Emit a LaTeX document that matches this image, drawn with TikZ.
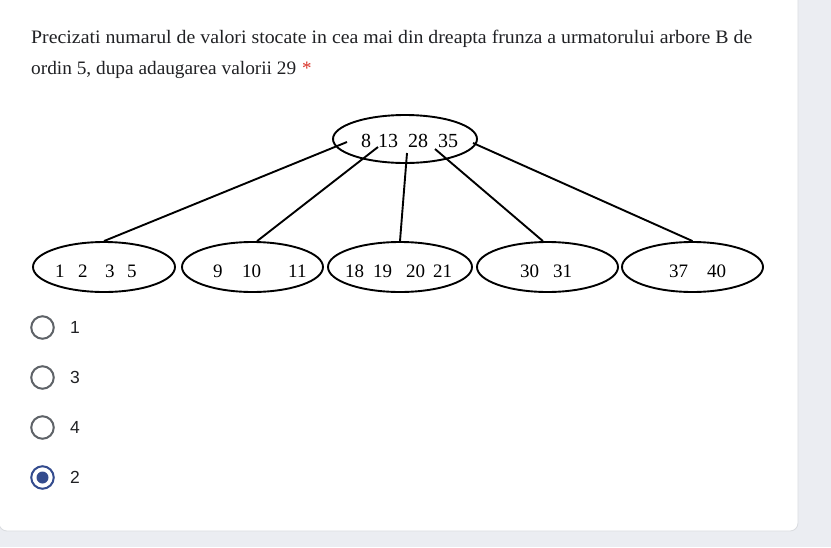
\documentclass[tikz,border=0pt]{standalone}
\usepackage{fontspec}
\usepackage{graphicx}
\setmainfont{Liberation Serif}
\newfontfamily\uisans{Liberation Sans}
\usetikzlibrary{shapes.geometric}
\definecolor{pagebg}{HTML}{EBEDF2}
\definecolor{cardline}{HTML}{DADCE0}
\definecolor{qtext}{HTML}{202124}
\definecolor{reqred}{HTML}{D93025}
\definecolor{radiogray}{HTML}{5F6368}
\definecolor{radioblue}{HTML}{344C8E}
\begin{document}
\begin{tikzpicture}[x=1pt,y=-1pt,
  bnode/.style={draw=black, line width=1.9pt, ellipse, inner sep=0pt},
  edge/.style={draw=black, line width=1.9pt},
  keys/.style={anchor=base west, inner sep=0pt, font=\fontsize{19}{21}\selectfont},
  rootkeys/.style={anchor=base west, inner sep=0pt, font=\fontsize{20}{22}\selectfont},
  qline/.style={anchor=base west, inner sep=0pt, text=qtext, font=\fontsize{19}{21}\selectfont},
  radio/.style={circle, draw=radiogray, line width=2pt, minimum size=22.5pt, inner sep=0pt},
  radiosel/.style={radio, draw=radioblue},
  radiodot/.style={circle, fill=radioblue, minimum size=12pt, inner sep=0pt},
  optlabel/.style={anchor=base west, inner sep=0pt, text=qtext, font=\uisans\fontsize{17.5}{20}\selectfont}]
\fill[pagebg] (0,0) rectangle (831,547);
\useasboundingbox (0,0) rectangle (831,547);
\draw[cardline, fill=white, line width=0.8pt, rounded corners=8pt] (-1,-12) rectangle (798,531);

% question
\node[qline] (q1) at (31,43) {\resizebox{721pt}{\height}{Precizati numarul de valori stocate in cea mai din dreapta frunza a urmatorului arbore B de}};
\node[qline] (q2) at (31,74) {\resizebox{265pt}{\height}{ordin 5, dupa adaugarea valorii 29}};
\node[qline, text=reqred] (req) at (302,74) {*};

% tree
\node[bnode, minimum width=144pt, minimum height=48pt] (root) at (405,139) {};
\node[bnode, minimum width=142pt, minimum height=50pt] (l1) at (104,267) {};
\node[bnode, minimum width=141pt, minimum height=50pt] (l2) at (252.5,267) {};
\node[bnode, minimum width=144pt, minimum height=50pt] (l3) at (400,267) {};
\node[bnode, minimum width=141pt, minimum height=50pt] (l4) at (547.5,267) {};
\node[bnode, minimum width=141pt, minimum height=50pt] (l5) at (692.5,267) {};

\node[rootkeys] (rk) at (361,147) {8\hspace{7pt}13\hspace{10pt}28\hspace{10pt}35};
\node[keys] (k1) at (55,277) {1\hspace{13.5pt}2\hspace{17.5pt}3\hspace{12.5pt}5};
\node[keys] (k2) at (213,277) {9\hspace{19.5pt}10\hspace{27pt}11};
\node[keys] (k3) at (345,277) {18\hspace{9pt}19\hspace{14pt}20\hspace{8pt}21};
\node[keys] (k4) at (520,277) {30\hspace{14pt}31};
\node[keys] (k5) at (669,277) {37\hspace{19pt}40};

\coordinate (r1) at (347,142);
\coordinate (r2) at (378,147);
\coordinate (r3) at (407,153);
\coordinate (r4) at (435,149);
\coordinate (r5) at (473,143);
\draw[edge] (r1) -- (l1.north);
\draw[edge] (r2) -- (l2.80);
\draw[edge] (r3) -- (l3.north);
\draw[edge] (r4) -- (l4.100);
\draw[edge] (r5) -- (l5.north);

% options
\node[radio] (o1) at (42.5,327.5) {};
\node[radio] (o2) at (42.5,377.5) {};
\node[radio] (o3) at (42.5,427.5) {};
\node[radiosel] (o4) at (42.5,477.5) {};
\node[radiodot] (o4dot) at (o4.center) {};
\node[optlabel] (t1) at (70,333.5) {1};
\node[optlabel] (t2) at (70,383.5) {3};
\node[optlabel] (t3) at (70,433.5) {4};
\node[optlabel] (t4) at (70,483.5) {2};
\end{tikzpicture}
\end{document}
